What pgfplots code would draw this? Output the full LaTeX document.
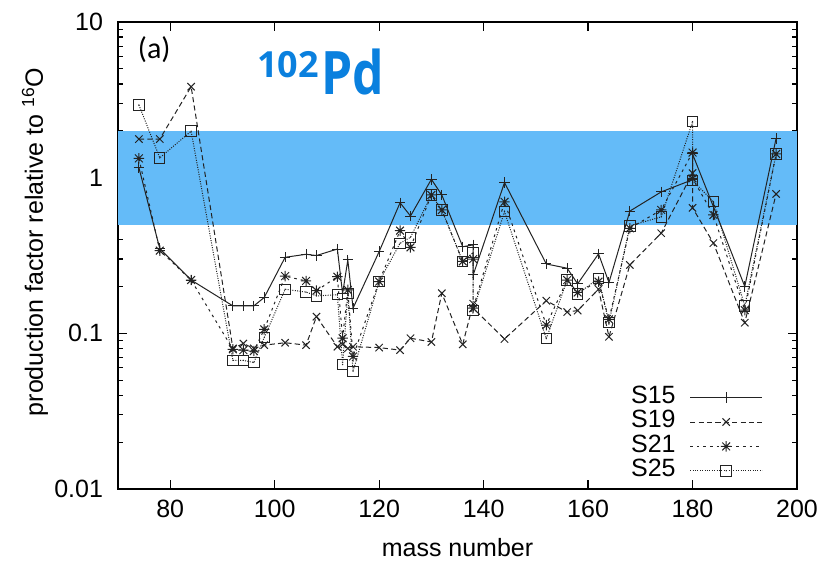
\documentclass[border=0pt]{standalone}
\usepackage{fontspec}
\setmainfont{Liberation Sans}
\newfontfamily\carlito{Carlito}
\newfontfamily\opensans{Open Sans}
\usepackage{graphicx}
\usepackage{pgfplots}
\pgfplotsset{compat=1.18}

\definecolor{band}{RGB}{100,187,248}
\definecolor{isoblue}{RGB}{10,128,222}
\definecolor{curve}{RGB}{35,35,35}

% gnuplot-style asterisk: a plus and a cross on top of each other
\pgfdeclareplotmark{gpstar}{%
  \pgfpathmoveto{\pgfqpoint{-\pgfplotmarksize}{0pt}}%
  \pgfpathlineto{\pgfqpoint{\pgfplotmarksize}{0pt}}%
  \pgfpathmoveto{\pgfqpoint{0pt}{-\pgfplotmarksize}}%
  \pgfpathlineto{\pgfqpoint{0pt}{\pgfplotmarksize}}%
  \pgfpathmoveto{\pgfqpoint{-0.75\pgfplotmarksize}{-0.75\pgfplotmarksize}}%
  \pgfpathlineto{\pgfqpoint{0.75\pgfplotmarksize}{0.75\pgfplotmarksize}}%
  \pgfpathmoveto{\pgfqpoint{-0.75\pgfplotmarksize}{0.75\pgfplotmarksize}}%
  \pgfpathlineto{\pgfqpoint{0.75\pgfplotmarksize}{-0.75\pgfplotmarksize}}%
  \pgfusepathqstroke}
% open box with a dot in the middle
\pgfdeclareplotmark{sqdot}{%
  \pgfpathrectangle{\pgfqpoint{-\pgfplotmarksize}{-\pgfplotmarksize}}%
    {\pgfqpoint{2\pgfplotmarksize}{2\pgfplotmarksize}}%
  \pgfusepathqstroke
  \pgfpathcircle{\pgfpointorigin}{0.35pt}\pgfusepathqfill}

\begin{document}
\begin{tikzpicture}
\begin{axis}[
  scale only axis, width=339.5bp, height=233.5bp,
  xmin=70, xmax=200, ymode=log, ymin=0.01, ymax=10,
  xtick={80,100,120,140,160,180,200},
  xticklabels={80,100,120,140,160,180,200},
  ytick={0.01,0.1,1,10}, yticklabels={0.01,0.1,1,10},
  minor x tick num=0,
  tick align=inside, major tick length=4.5bp, minor tick length=2.5bp,
  axis line style={line width=0.7bp},
  every tick/.style={line width=0.6bp, black},
  tick label style={font=\fontsize{12.5bp}{15bp}\selectfont},
  xticklabel style={yshift=-2bp},
  yticklabel style={xshift=-4bp},
  xlabel={mass number},
  ylabel={production factor relative to \textsuperscript{16}O},
  every axis x label/.style={at={(rel axis cs:0.5,0)}, anchor=base, yshift=-33.5bp,
    font=\fontsize{12.5bp}{15bp}\selectfont},
  every axis y label/.style={at={(rel axis cs:-0.1222,0.529)}, anchor=center, rotate=90,
    font=\fontsize{12.5bp}{15bp}\selectfont},
  legend style={at={(rel axis cs:0.95,0.012)}, anchor=south east, draw=none, fill=none,
    font=\fontsize{12.5bp}{15bp}\selectfont, row sep=0pt, inner sep=0pt, column sep=7bp,
    nodes={inner sep=0pt, text height=8.9bp, text depth=3.3bp}},
  legend plot pos=right, legend cell align=right,
  legend image code/.code={\draw[mark repeat=2,mark phase=2,#1]
    plot coordinates {(0bp,0bp) (18bp,0bp) (36bp,0bp)};},
  every axis plot/.append style={line width=0.5bp, color=curve, mark size=2.6bp,
    mark options={solid, line width=0.5bp}},
]
% band of production factors between 0.5 and 2
\fill[band] (axis cs:70,0.5) rectangle (axis cs:200,2);

\addplot[mark=+] coordinates {
 (74,1.16)(78,0.35)(84,0.22)(92,0.150)(94,0.150)(96,0.150)(98,0.170)
 (102,0.308)(106,0.322)(108,0.316)(112,0.348)(113,0.180)(114,0.296)(115,0.145)
 (120,0.335)(124,0.69)(126,0.567)(130,0.976)(132,0.774)(136,0.36)(138,0.37)
 (138,0.237)(144,0.93)(152,0.279)(156,0.262)(158,0.208)(162,0.324)(164,0.212)
 (168,0.61)(174,0.81)(180,0.97)(180,1.42)(184,0.651)(190,0.200)(196,1.79)};
\addlegendentry{S15}

\addplot[mark=x, dash pattern=on 2.6bp off 1.6bp] coordinates {
 (74,1.77)(78,1.77)(84,3.84)(92,0.080)(94,0.086)(96,0.080)(98,0.084)
 (102,0.087)(106,0.084)(108,0.128)(112,0.082)(113,0.085)(114,0.080)(115,0.082)
 (120,0.081)(124,0.078)(126,0.093)(130,0.088)(132,0.181)(136,0.085)(138,0.155)
 (138,0.145)(144,0.092)(152,0.162)(156,0.137)(158,0.140)(162,0.192)(164,0.095)
 (168,0.275)(174,0.44)(180,1.07)(180,0.64)(184,0.38)(190,0.117)(196,0.786)};
\addlegendentry{S19}

\addplot[mark=gpstar, dash pattern=on 1.3bp off 2bp] coordinates {
 (74,1.33)(78,0.34)(84,0.22)(92,0.079)(94,0.078)(96,0.077)(98,0.106)
 (102,0.233)(106,0.217)(108,0.188)(112,0.231)(113,0.093)(114,0.190)(115,0.071)
 (120,0.215)(124,0.457)(126,0.357)(130,0.774)(132,0.620)(136,0.290)(138,0.300)
 (138,0.145)(144,0.700)(152,0.113)(156,0.220)(158,0.183)(162,0.215)(164,0.123)
 (168,0.473)(174,0.620)(180,1.45)(180,0.99)(184,0.576)(190,0.141)(196,1.42)};
\addlegendentry{S21}

\addplot[mark=sqdot, dash pattern=on 0.5bp off 0.7bp] coordinates {
 (74,2.93)(78,1.34)(84,1.99)(92,0.067)(94,0.067)(96,0.065)(98,0.094)
 (102,0.192)(106,0.184)(108,0.174)(112,0.177)(113,0.063)(114,0.181)(115,0.057)
 (120,0.215)(124,0.379)(126,0.414)(130,0.774)(132,0.620)(136,0.290)(138,0.330)
 (138,0.140)(144,0.605)(152,0.0925)(156,0.220)(158,0.179)(162,0.226)(164,0.117)
 (168,0.490)(174,0.560)(180,2.29)(180,0.96)(184,0.700)(190,0.150)(196,1.42)};
\addlegendentry{S25}

\node[anchor=base west, font=\carlito\fontsize{15bp}{18bp}\selectfont]
  at (rel axis cs:0.019,0.921) {(a)};
\node[anchor=base west, text=isoblue, inner sep=0pt, font=\opensans\bfseries]
  at (rel axis cs:0.2047,0.8437)
  {{\fontsize{18bp}{18bp}\selectfont\raisebox{8.5bp}{102}}\hspace{1bp}%
   {\fontsize{30bp}{30bp}\selectfont\scalebox{0.83}[1]{Pd}}};
\node[anchor=west, inner sep=0pt, text={rgb,255:red,30;green,160;blue,230},
  font=\bfseries\fontsize{11bp}{11bp}\selectfont]
  at (rel axis cs:-0.1708,0.173) {s};

\coordinate (sw) at (rel axis cs:0,0);
\end{axis}
\pgfresetboundingbox
\path[use as bounding box] (sw) ++(-59bp,-36.5bp) rectangle ++(410bp,281bp);
\end{tikzpicture}
\end{document}
